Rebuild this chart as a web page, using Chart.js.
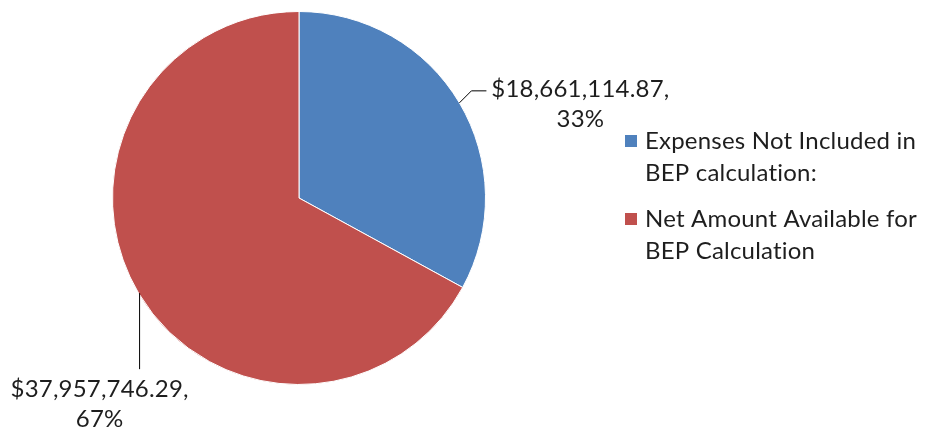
<!DOCTYPE html>
<html>
<head>
<meta charset="utf-8">
<script src="https://cdn.jsdelivr.net/npm/chart.js@4"></script>
<style>
  html, body { margin: 0; padding: 0; background: #fff; }
  #wrap { width: 925px; height: 431px; position: relative; }
</style>
</head>
<body>
<div id="wrap"><canvas id="pieChart" width="925" height="431"></canvas></div>
<script>
const categories = [
  ['Expenses Not Included in', 'BEP calculation:'],
  ['Net Amount Available for', 'BEP Calculation']
];
const amounts = [18661114.87, 37957746.29];
const sliceColors = ['#4F81BD', '#C0504D'];

const FONT = '24px Lato, "Open Sans", sans-serif';
const TEXT = '#1e1e1e';

const fmtMoney = v => '$' + v.toLocaleString('en-US', { minimumFractionDigits: 2, maximumFractionDigits: 2 }) + ',';
const total = amounts.reduce((a, b) => a + b, 0);

// leader lines + data labels, like the Excel original
const labelPlugin = {
  id: 'pieLabels',
  afterDatasetsDraw(chart) {
    const c = chart.ctx;
    const meta = chart.getDatasetMeta(0);
    c.save();
    c.font = FONT;
    c.letterSpacing = '0.2px';
    c.fillStyle = TEXT;
    c.strokeStyle = '#000';
    c.lineWidth = 1;
    c.textAlign = 'center';
    c.textBaseline = 'middle';
    meta.data.forEach((arc, i) => {
      const p = arc.getProps(['x', 'y', 'startAngle', 'endAngle', 'outerRadius'], true);
      const mid = (p.startAngle + p.endAngle) / 2;
      const ex = p.x + Math.cos(mid) * p.outerRadius;
      const ey = p.y + Math.sin(mid) * p.outerRadius;
      const pct = Math.round(amounts[i] / total * 100) + '%';
      c.beginPath();
      let tx, ty;
      if (i === 0) {
        c.moveTo(ex, ey);
        c.lineTo(ex + 12, ey - 12);
        c.lineTo(ex + 27, ey - 12);
        tx = ex + 121; ty = ey - 14;
      } else {
        c.moveTo(ex + 1, ey);
        c.lineTo(ex + 1, ey + 76);
        tx = ex - 39; ty = ey + 96;
      }
      c.stroke();
      c.fillText(fmtMoney(amounts[i]), tx, ty);
      c.fillText(pct, tx, ty + 30);
    });
    c.restore();
  }
};

// legend with wrapped entries on the right
const legendPlugin = {
  id: 'sideLegend',
  afterDraw(chart) {
    const c = chart.ctx;
    c.save();
    c.font = FONT;
    c.letterSpacing = '0.2px';
    c.textAlign = 'left';
    c.textBaseline = 'middle';
    const x0 = 625, tops = [141, 219];
    categories.forEach((lines, i) => {
      c.fillStyle = sliceColors[i];
      c.fillRect(x0, tops[i] - 6, 12, 12);
      c.fillStyle = TEXT;
      lines.forEach((ln, j) => c.fillText(ln, x0 + 20, tops[i] + j * 32));
    });
    c.restore();
  }
};

new Chart(document.getElementById('pieChart').getContext('2d'), {
  type: 'pie',
  data: {
    labels: categories.map(l => l.join(' ')),
    datasets: [{
      data: amounts,
      backgroundColor: sliceColors,
      borderColor: '#ffffff',
      borderWidth: 1
    }]
  },
  options: {
    responsive: false,
    animation: false,
    layout: { padding: { top: 11, bottom: 46, left: 112, right: 439 } },
    plugins: {
      legend: { display: false },
      tooltip: { enabled: false }
    }
  },
  plugins: [labelPlugin, legendPlugin]
});
</script>
</body>
</html>
